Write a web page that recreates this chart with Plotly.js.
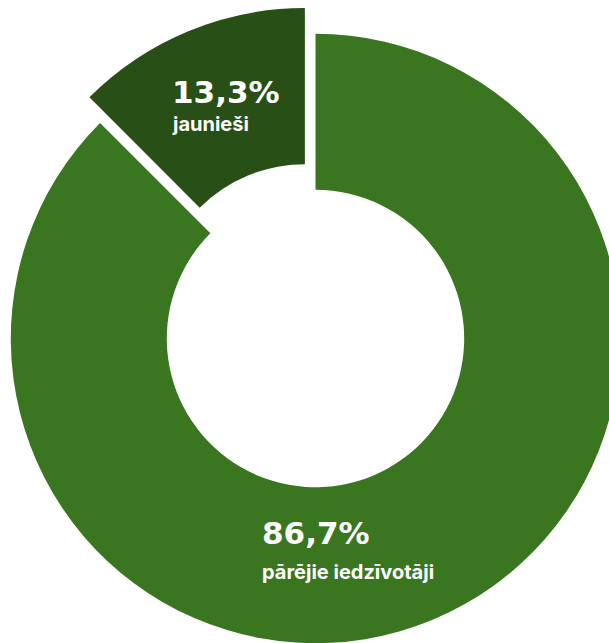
<!DOCTYPE html>
<html>
<head>
<meta charset="utf-8">
<script src="https://cdn.plot.ly/plotly-3.0.1.min.js"></script>
<style>
  html, body { margin: 0; padding: 0; width: 609px; height: 643px; overflow: hidden; background: #ffffff; }
  #chart { position: absolute; left: -17px; top: 6px; width: 665px; height: 665px; }
</style>
</head>
<body>
<div id="chart"></div>
<script>
// Data (drawn clockwise from 12 o'clock)
const labels = ["pārējie iedzīvotāji", "jaunieši"];
// slice sizes as drawn in the picture (the small slice spans ~45 degrees)
const values = [87.5, 12.5];
// percentages as printed on the chart
const printed = ["86,7%", "13,3%"];
const colors = ["#39761f", "#284f16"];
const pulls = [0, 0.0912];

const W = 665, H = 665;
// label anchor positions (paper fractions) - layout only
const numPos = [[0.4166, 0.2070], [0.2808, 0.8700]];
const namePos = [[0.4166, 0.1490], [0.2808, 0.8220]];

const annotations = [];
labels.forEach((lab, i) => {
  annotations.push({
    xref: "paper", yref: "paper", x: numPos[i][0], y: numPos[i][1],
    xanchor: "left", yanchor: "middle", showarrow: false, align: "left",
    text: "<b>" + printed[i] + "</b>",
    font: { family: "DejaVu Sans", size: 31, color: "#ffffff", weight: 700 }
  });
  annotations.push({
    xref: "paper", yref: "paper", x: namePos[i][0], y: namePos[i][1],
    xanchor: "left", yanchor: "middle", showarrow: false, align: "left",
    text: "<b>" + lab + "</b>",
    font: { family: "Inter", size: 20, color: "#ffffff", weight: 700 }
  });
});

const trace = {
  type: "pie",
  labels: labels,
  values: values,
  hole: 0.488,
  sort: false,
  direction: "clockwise",
  rotation: 0,
  pull: pulls,
  marker: { colors: colors, line: { width: 0 } },
  textinfo: "none",
  hoverinfo: "skip",
  showlegend: false,
  domain: { x: [0, 1], y: [0, 1] }
};

const layout = {
  width: W, height: H,
  margin: { l: 0, r: 0, t: 0, b: 0, pad: 0 },
  paper_bgcolor: "#ffffff",
  plot_bgcolor: "#ffffff",
  showlegend: false,
  annotations: annotations
};

Plotly.newPlot("chart", [trace], layout, { displayModeBar: false, staticPlot: true });
</script>
</body>
</html>
